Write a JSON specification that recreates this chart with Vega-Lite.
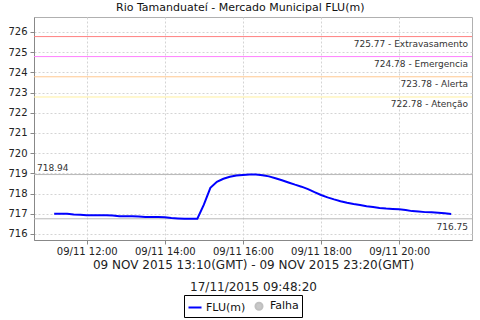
{
  "$schema": "https://vega.github.io/schema/vega-lite/v6.json",
  "width": 438,
  "height": 223,
  "padding": {"left": 7, "top": 2, "right": 8, "bottom": 0},
  "background": "white",
  "config": {
    "font": "DejaVu Sans",
    "view": {"stroke": "#b0b0b0"},
    "axis": {
      "gridColor": "#d4d4d4",
      "gridDash": [2, 2],
      "domainColor": "#888888",
      "tickColor": "#888888",
      "tickSize": 4,
      "labelFontSize": 10,
      "labelColor": "#222222",
      "labelOverlap": false
    },
    "legend": {
      "direction": "horizontal",
      "strokeColor": "black",
      "padding": 3,
      "labelFontSize": 11,
      "labelColor": "#111111",
      "columnPadding": 5,
      "labelOffset": 3
    }
  },
  "title": {"text": "Rio Tamanduateí - Mercado Municipal FLU(m)", "fontSize": 11, "fontWeight": "normal", "color": "#111111", "offset": 4, "frame": "bounds", "anchor": "middle"},
  "datasets": {
    "flu": [
      {"t": "2015-11-09T11:10:00Z", "v": 717.00},
      {"t": "2015-11-09T11:20:00Z", "v": 717.00},
      {"t": "2015-11-09T11:30:00Z", "v": 717.00},
      {"t": "2015-11-09T11:40:00Z", "v": 716.96},
      {"t": "2015-11-09T11:50:00Z", "v": 716.95},
      {"t": "2015-11-09T12:00:00Z", "v": 716.92},
      {"t": "2015-11-09T12:10:00Z", "v": 716.92},
      {"t": "2015-11-09T12:20:00Z", "v": 716.92},
      {"t": "2015-11-09T12:30:00Z", "v": 716.92},
      {"t": "2015-11-09T12:40:00Z", "v": 716.91},
      {"t": "2015-11-09T12:50:00Z", "v": 716.88},
      {"t": "2015-11-09T13:00:00Z", "v": 716.88},
      {"t": "2015-11-09T13:10:00Z", "v": 716.88},
      {"t": "2015-11-09T13:20:00Z", "v": 716.86},
      {"t": "2015-11-09T13:30:00Z", "v": 716.84},
      {"t": "2015-11-09T13:40:00Z", "v": 716.84},
      {"t": "2015-11-09T13:50:00Z", "v": 716.84},
      {"t": "2015-11-09T14:00:00Z", "v": 716.83},
      {"t": "2015-11-09T14:10:00Z", "v": 716.79},
      {"t": "2015-11-09T14:20:00Z", "v": 716.77},
      {"t": "2015-11-09T14:30:00Z", "v": 716.75},
      {"t": "2015-11-09T14:40:00Z", "v": 716.75},
      {"t": "2015-11-09T14:50:00Z", "v": 716.75},
      {"t": "2015-11-09T15:00:00Z", "v": 717.45},
      {"t": "2015-11-09T15:10:00Z", "v": 718.28},
      {"t": "2015-11-09T15:20:00Z", "v": 718.58},
      {"t": "2015-11-09T15:30:00Z", "v": 718.73},
      {"t": "2015-11-09T15:40:00Z", "v": 718.83},
      {"t": "2015-11-09T15:50:00Z", "v": 718.89},
      {"t": "2015-11-09T16:00:00Z", "v": 718.92},
      {"t": "2015-11-09T16:10:00Z", "v": 718.94},
      {"t": "2015-11-09T16:20:00Z", "v": 718.94},
      {"t": "2015-11-09T16:30:00Z", "v": 718.91},
      {"t": "2015-11-09T16:40:00Z", "v": 718.85},
      {"t": "2015-11-09T16:50:00Z", "v": 718.76},
      {"t": "2015-11-09T17:00:00Z", "v": 718.66},
      {"t": "2015-11-09T17:10:00Z", "v": 718.55},
      {"t": "2015-11-09T17:20:00Z", "v": 718.44},
      {"t": "2015-11-09T17:30:00Z", "v": 718.34},
      {"t": "2015-11-09T17:40:00Z", "v": 718.22},
      {"t": "2015-11-09T17:50:00Z", "v": 718.07},
      {"t": "2015-11-09T18:00:00Z", "v": 717.93},
      {"t": "2015-11-09T18:10:00Z", "v": 717.81},
      {"t": "2015-11-09T18:20:00Z", "v": 717.71},
      {"t": "2015-11-09T18:30:00Z", "v": 717.62},
      {"t": "2015-11-09T18:40:00Z", "v": 717.54},
      {"t": "2015-11-09T18:50:00Z", "v": 717.48},
      {"t": "2015-11-09T19:00:00Z", "v": 717.43},
      {"t": "2015-11-09T19:10:00Z", "v": 717.37},
      {"t": "2015-11-09T19:20:00Z", "v": 717.33},
      {"t": "2015-11-09T19:30:00Z", "v": 717.29},
      {"t": "2015-11-09T19:40:00Z", "v": 717.26},
      {"t": "2015-11-09T19:50:00Z", "v": 717.24},
      {"t": "2015-11-09T20:00:00Z", "v": 717.22},
      {"t": "2015-11-09T20:10:00Z", "v": 717.18},
      {"t": "2015-11-09T20:20:00Z", "v": 717.13},
      {"t": "2015-11-09T20:30:00Z", "v": 717.11},
      {"t": "2015-11-09T20:40:00Z", "v": 717.08},
      {"t": "2015-11-09T20:50:00Z", "v": 717.07},
      {"t": "2015-11-09T21:00:00Z", "v": 717.05},
      {"t": "2015-11-09T21:10:00Z", "v": 717.03},
      {"t": "2015-11-09T21:20:00Z", "v": 716.99}
    ],
    "limites": [
      {"nivel": "Extravasamento", "valor": 725.77, "rotulo": "725.77 - Extravasamento"},
      {"nivel": "Emergencia", "valor": 724.78, "rotulo": "724.78 - Emergencia"},
      {"nivel": "Alerta", "valor": 723.78, "rotulo": "723.78 - Alerta"},
      {"nivel": "Atenção", "valor": 722.78, "rotulo": "722.78 - Atenção"}
    ]
  },
  "layer": [
    {
      "data": {"name": "limites"},
      "transform": [{"filter": "datum.nivel == 'Extravasamento'"}],
      "mark": {"type": "rule", "strokeWidth": 1, "color": "#ff8080"},
      "encoding": {"y": {"field": "valor", "type": "quantitative",
        "scale": {"domain": [715.7, 726.74], "nice": false, "zero": false},
        "axis": {"values": [716, 717, 718, 719, 720, 721, 722, 723, 724, 725, 726], "tickCount": 11, "title": null, "labelPadding": 3, "labelOverlap": false}}}
    },
    {
      "data": {"name": "limites"},
      "transform": [{"filter": "datum.nivel == 'Emergencia'"}],
      "mark": {"type": "rule", "strokeWidth": 1, "color": "#ff80ff"},
      "encoding": {"y": {"field": "valor", "type": "quantitative"}}
    },
    {
      "data": {"name": "limites"},
      "transform": [{"filter": "datum.nivel == 'Alerta'"}],
      "mark": {"type": "rule", "strokeWidth": 1, "color": "#ffc890"},
      "encoding": {"y": {"field": "valor", "type": "quantitative"}}
    },
    {
      "data": {"name": "limites"},
      "transform": [{"filter": "datum.nivel == 'Atenção'"}],
      "mark": {"type": "rule", "strokeWidth": 1, "color": "#fff0a0"},
      "encoding": {"y": {"field": "valor", "type": "quantitative"}}
    },
    {
      "data": {"name": "flu"},
      "mark": {"type": "rule", "color": "#b8b8b8", "strokeWidth": 1},
      "encoding": {"y": {"aggregate": "max", "field": "v", "type": "quantitative"}}
    },
    {
      "data": {"name": "flu"},
      "mark": {"type": "rule", "color": "#b8b8b8", "strokeWidth": 1},
      "encoding": {"y": {"aggregate": "min", "field": "v", "type": "quantitative"}}
    },
    {
      "data": {"name": "flu"},
      "mark": {"type": "line", "strokeWidth": 2, "interpolate": "linear"},
      "encoding": {
        "x": {
          "field": "t", "type": "temporal",
          "scale": {"type": "utc", "domain": [
            {"year": 2015, "month": 11, "date": 9, "hours": 10, "minutes": 39, "utc": true},
            {"year": 2015, "month": 11, "date": 9, "hours": 21, "minutes": 52, "utc": true}
          ], "nice": false},
          "axis": {
            "format": "%d/%m %H:%M",
            "values": [
              {"year": 2015, "month": 11, "date": 9, "hours": 12, "utc": true},
              {"year": 2015, "month": 11, "date": 9, "hours": 14, "utc": true},
              {"year": 2015, "month": 11, "date": 9, "hours": 16, "utc": true},
              {"year": 2015, "month": 11, "date": 9, "hours": 18, "utc": true},
              {"year": 2015, "month": 11, "date": 9, "hours": 20, "utc": true}
            ],
            "labelPadding": 2,
            "title": ["09 NOV 2015 13:10(GMT) - 09 NOV 2015 23:20(GMT)", "17/11/2015 09:48:20"],
            "titleFontSize": 12, "titleFontWeight": "normal", "titleColor": "#222222", "titlePadding": 3, "titleLineHeight": 22
          }
        },
        "y": {
          "field": "v", "type": "quantitative",
          "scale": {"domain": [715.7, 726.74], "nice": false, "zero": false},
          "axis": {"values": [716, 717, 718, 719, 720, 721, 722, 723, 724, 725, 726], "tickCount": 11, "title": null, "labelPadding": 3, "labelOverlap": false}
        },
        "color": {
          "datum": "FLU(m)",
          "scale": {"domain": ["FLU(m)", "Falha"], "range": ["#0000ff", "#c0c0c0"]},
          "legend": {
            "title": null,
            "orient": "none",
            "legendX": 150,
            "legendY": 278,
            "symbolStrokeWidth": 2,
            "encode": {
              "symbols": {
                "update": {
                  "shape": {"signal": "datum.label == 'Falha' ? 'circle' : 'stroke'"},
                  "fill": {"signal": "datum.label == 'Falha' ? '#c8c8c8' : 'transparent'"},
                  "size": {"signal": "datum.label == 'Falha' ? 50 : 170"}
                }
              }
            }
          }
        }
      }
    },
    {
      "data": {"name": "limites"},
      "mark": {"type": "text", "align": "right", "baseline": "top", "dx": -4, "dy": 3, "fontSize": 9, "color": "#333333"},
      "encoding": {
        "x": {"datum": {"year": 2015, "month": 11, "date": 9, "hours": 21, "minutes": 52, "utc": true}, "type": "temporal"},
        "y": {"field": "valor", "type": "quantitative"},
        "text": {"field": "rotulo"}
      }
    },
    {
      "data": {"name": "flu"},
      "mark": {"type": "text", "align": "left", "baseline": "alphabetic", "dx": 3, "dy": -4, "fontSize": 9, "color": "#333333"},
      "encoding": {
        "x": {"datum": {"year": 2015, "month": 11, "date": 9, "hours": 10, "minutes": 39, "utc": true}, "type": "temporal"},
        "y": {"aggregate": "max", "field": "v", "type": "quantitative"},
        "text": {"aggregate": "max", "field": "v", "type": "quantitative", "format": ".2f"}
      }
    },
    {
      "data": {"name": "flu"},
      "mark": {"type": "text", "align": "right", "baseline": "top", "dx": -4, "dy": 4, "fontSize": 9, "color": "#333333"},
      "encoding": {
        "x": {"datum": {"year": 2015, "month": 11, "date": 9, "hours": 21, "minutes": 52, "utc": true}, "type": "temporal"},
        "y": {"aggregate": "min", "field": "v", "type": "quantitative"},
        "text": {"aggregate": "min", "field": "v", "type": "quantitative", "format": ".2f"}
      }
    }
  ]
}
